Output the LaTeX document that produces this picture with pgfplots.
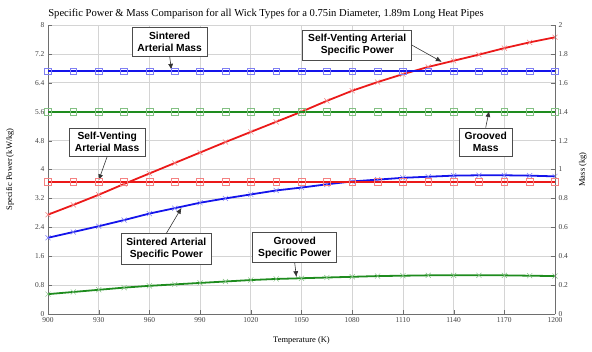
\documentclass[border=0pt]{standalone}
\usepackage{pgfplots}
\pgfplotsset{compat=1.18}
\usepackage{fontspec}
\setmainfont{Liberation Serif}
\newfontfamily\boxfont{Liberation Sans}
\usetikzlibrary{arrows.meta}
\definecolor{myred}{RGB}{235,25,25}
\definecolor{myblue}{RGB}{20,20,235}
\definecolor{mygreen}{RGB}{30,140,30}
\definecolor{axgray}{RGB}{110,110,110}
\begin{document}
\begin{tikzpicture}
\path[use as bounding box] (-48bp,-38bp) rectangle (544bp,314bp);
\pgfplotsset{
  base/.style={
    scale only axis, width=507bp, height=289bp,
    xmin=900, xmax=1200,
    /pgf/number format/assume math mode=true,
    /pgf/number format/1000 sep={},
    tick label style={font=\fontsize{7.5}{8.5}\selectfont, text=black!75},
    axis line style={axgray},
    tick style={axgray},
    label style={font=\fontsize{8.5}{10}\selectfont},
  }
}
\begin{axis}[base,
  ymin=0, ymax=8,
  xtick={900,930,...,1200},
  ytick={0,0.8,1.6,2.4,3.2,4,4.8,5.6,6.4,7.2,8},
  axis y line*=left, axis x line*=bottom,
  grid=major, grid style={black!17, line width=0.8pt},
  xlabel={Temperature (K)},
  ylabel={Specific Power (kW/kg)},
  xlabel style={at={(axis description cs:0.5,-0.09)}, anchor=center},
  ylabel style={at={(axis description cs:-0.075,0.5)}, anchor=center},
  every axis plot/.append style={line width=1.8pt, mark size=3.6pt},
  clip=false,
]
% Self-Venting Arterial Specific Power
\addplot[myred, mark=x, mark options={myred!55, line width=0.5pt}] coordinates {
(900,2.75) (915,3.02) (930,3.30) (945,3.60) (960,3.89) (975,4.18) (990,4.47)
(1005,4.76) (1020,5.04) (1035,5.32) (1050,5.60) (1065,5.90) (1080,6.18)
(1095,6.42) (1110,6.64) (1125,6.84) (1140,7.01) (1155,7.18) (1170,7.36)
(1185,7.52) (1200,7.66)};
% Sintered Arterial Specific Power
\addplot[myblue, mark=x, mark options={myblue!55, line width=0.5pt}] coordinates {
(900,2.11) (915,2.27) (930,2.43) (945,2.60) (960,2.78) (975,2.93) (990,3.08)
(1005,3.20) (1020,3.31) (1035,3.42) (1050,3.50) (1065,3.59) (1080,3.67)
(1095,3.72) (1110,3.77) (1125,3.80) (1140,3.83) (1155,3.84) (1170,3.84)
(1185,3.83) (1200,3.81)};
% Grooved Specific Power
\addplot[mygreen, mark=x, mark options={mygreen!55, line width=0.5pt}] coordinates {
(900,0.55) (915,0.61) (930,0.67) (945,0.73) (960,0.78) (975,0.82) (990,0.86)
(1005,0.90) (1020,0.94) (1035,0.97) (1050,0.99) (1065,1.01) (1080,1.03)
(1095,1.05) (1110,1.06) (1125,1.07) (1140,1.07) (1155,1.07) (1170,1.07)
(1185,1.06) (1200,1.05)};
\node[font=\fontsize{10.65}{12.5}\selectfont] at (rel axis cs:0.43,1.0385) {Specific Power \& Mass Comparison for all Wick Types for a 0.75in Diameter, 1.89m Long Heat Pipes};
\end{axis}
\begin{axis}[base,
  ymin=0, ymax=2,
  ytick={0,0.2,0.4,0.6,0.8,1,1.2,1.4,1.6,1.8,2},
  axis y line*=right, axis x line=none,
  ylabel={Mass (kg)},
  ylabel style={at={(axis description cs:1.055,0.5)}, anchor=center},
  every axis plot/.append style={line width=1.8pt, mark size=3.4pt},
]
% Sintered Arterial Mass
\addplot[myblue, mark=square, mark options={myblue!55, line width=0.5pt}] coordinates {
(900,1.68) (915,1.68) (930,1.68) (945,1.68) (960,1.68) (975,1.68) (990,1.68)
(1005,1.68) (1020,1.68) (1035,1.68) (1050,1.68) (1065,1.68) (1080,1.68)
(1095,1.68) (1110,1.68) (1125,1.68) (1140,1.68) (1155,1.68) (1170,1.68)
(1185,1.68) (1200,1.68)};
% Grooved Mass
\addplot[mygreen, mark=square, mark options={mygreen!55, line width=0.5pt}] coordinates {
(900,1.40) (915,1.40) (930,1.40) (945,1.40) (960,1.40) (975,1.40) (990,1.40)
(1005,1.40) (1020,1.40) (1035,1.40) (1050,1.40) (1065,1.40) (1080,1.40)
(1095,1.40) (1110,1.40) (1125,1.40) (1140,1.40) (1155,1.40) (1170,1.40)
(1185,1.40) (1200,1.40)};
% Self-Venting Arterial Mass
\addplot[myred, mark=square, mark options={myred!55, line width=0.5pt}] coordinates {
(900,0.915) (915,0.915) (930,0.915) (945,0.915) (960,0.915) (975,0.915) (990,0.915)
(1005,0.915) (1020,0.915) (1035,0.915) (1050,0.915) (1065,0.915) (1080,0.915)
(1095,0.915) (1110,0.915) (1125,0.915) (1140,0.915) (1155,0.915) (1170,0.915)
(1185,0.915) (1200,0.915)};
\tikzset{abox/.style={draw=black!70, fill=white, line width=0.6pt, align=center,
  font=\boxfont\bfseries\fontsize{10.3}{12}\selectfont, inner xsep=5.5pt, inner ysep=4.5pt},
  aarr/.style={black!80, line width=0.6pt, -{Latex[length=6pt,width=5pt]}}}
\node[abox] (n1) at (axis cs:972,1.883) {Sintered\\Arterial Mass};
\draw[aarr] (n1.south) -- (axis cs:973,1.69);
\node[abox] (n2) at (axis cs:1083,1.86) {Self-Venting Arterial\\Specific Power};
\draw[aarr] (n2.east) -- (axis cs:1133,1.745);
\node[abox] (n3) at (axis cs:1159,1.19) {Grooved\\Mass};
\draw[aarr] (n3.north) -- (axis cs:1161,1.405);
\node[abox] (n4) at (axis cs:935,1.19) {Self-Venting\\Arterial Mass};
\draw[aarr] (n4.south) -- (axis cs:930,0.925);
\node[abox] (n5) at (axis cs:970,0.45) {Sintered Arterial\\Specific Power};
\draw[aarr] (n5.north) -- (axis cs:979,0.735);
\node[abox] (n6) at (axis cs:1046,0.46) {Grooved\\Specific Power};
\draw[aarr] (n6.south) -- (axis cs:1047,0.255);
\end{axis}
\end{tikzpicture}
\end{document}
